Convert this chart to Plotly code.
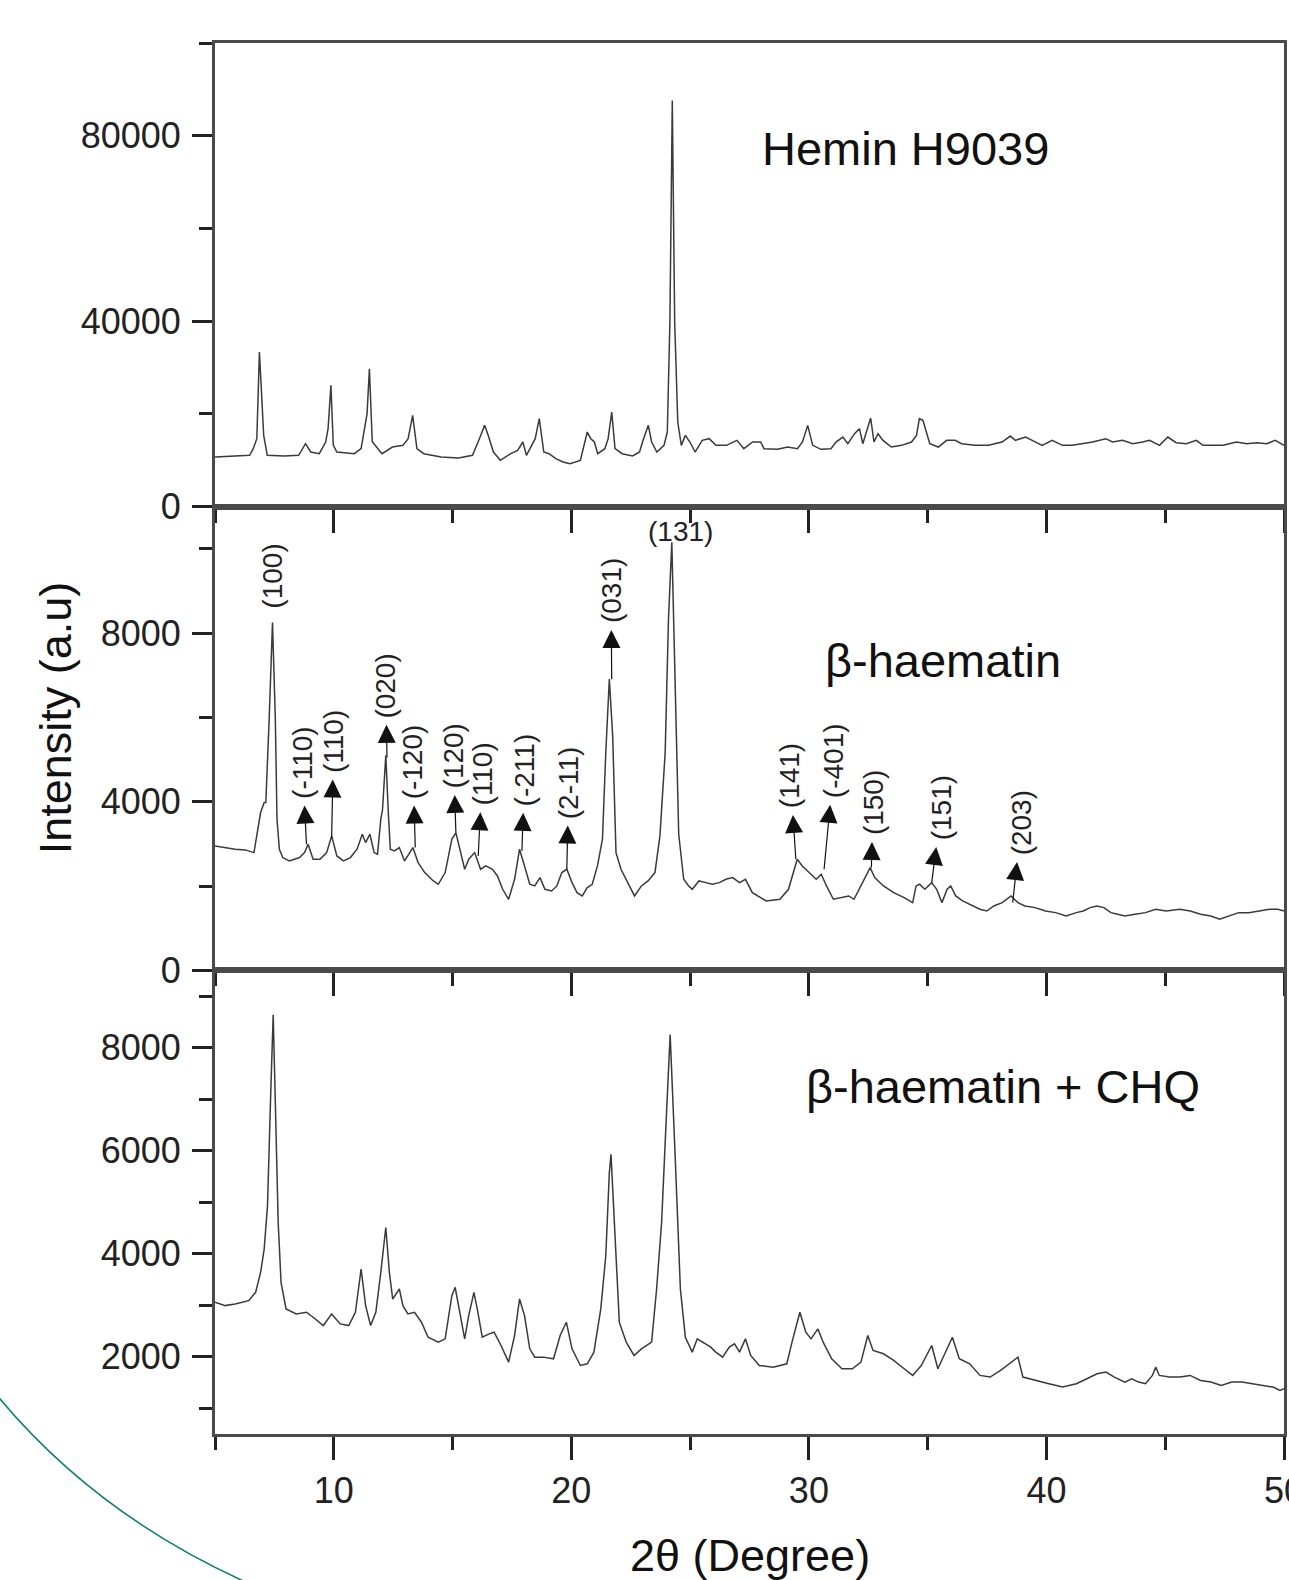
import plotly.graph_objects as go
from plotly.subplots import make_subplots

FONT = "Liberation Sans, Arial, sans-serif"

# ---------------- data ----------------
hemin_x = [5.00, 6.46, 6.61, 6.76, 6.87, 7.05, 7.20, 7.93, 8.52, 8.81, 9.03, 9.39, 9.66, 9.76, 9.88, 9.98,
           10.13, 10.86, 11.15, 11.40, 11.50, 11.62, 12.03, 12.47, 12.91, 13.13, 13.32, 13.50, 13.79, 14.52,
           15.25, 15.84, 16.13, 16.35, 16.50, 16.72, 17.01, 17.45, 17.74, 17.96, 18.11, 18.33, 18.48, 18.65,
           18.84, 19.06, 19.35, 19.65, 19.94, 20.38, 20.67, 20.82, 20.97, 21.11, 21.41, 21.55, 21.70, 21.84,
           22.14, 22.58, 22.87, 23.02, 23.24, 23.38, 23.60, 23.90, 24.04, 24.15, 24.25, 24.35, 24.48, 24.63,
           24.80, 24.99, 25.21, 25.51, 25.80, 26.09, 26.53, 26.97, 27.26, 27.63,
           27.97, 28.11, 28.68, 29.10, 29.52, 29.73, 29.95, 30.16, 30.51, 30.93, 31.14, 31.43, 31.64, 31.92,
           32.13, 32.27, 32.41, 32.60, 32.74, 32.91, 33.12, 33.47, 33.90, 34.32, 34.53, 34.65, 34.80, 35.09,
           35.45, 35.80, 36.15, 36.43, 37.00, 37.56, 38.13, 38.48, 38.69, 39.12, 39.40, 39.82, 40.24, 40.67,
           41.09, 41.51, 41.94, 42.50, 42.78, 43.21, 43.63, 44.05, 44.34, 44.76, 45.11, 45.46, 45.89, 46.31,
           46.59, 47.02, 47.44, 48.00, 48.43, 48.85, 49.27, 49.63, 50.00]
hemin_y = [10708, 11068, 12505, 14661, 33346, 15380, 11068, 10924, 11068, 13583, 11786, 11427, 13942, 16817,
           26160, 13224, 11786, 11427, 12505, 20000, 29753, 14000, 11427, 12864, 13224, 14661, 19691, 12505,
           11427, 10708, 10493, 11068, 14661, 17535, 15380, 11786, 9990, 11427, 12145, 13942, 11068, 13224,
           14661, 18973, 11786, 11427, 10349, 9630, 9271, 9990, 16098, 14661, 13942, 11427, 12505, 14661,
           20410, 12505, 11427, 10924, 11786, 14302, 17535, 13942, 11786, 13224, 16098, 40000, 87600, 40000,
           18254, 13224, 15380, 13942, 11786, 14302, 14661, 13224, 13224, 14302, 12505, 13942,
           13942, 12505, 12361, 12864, 12505, 13942, 17535, 13224, 12361, 12505, 13942, 15020, 13583, 15739,
           16817, 13583, 16098, 19117, 13942, 15739, 14302, 12864, 13224, 13942, 15380, 18973, 18613, 13583,
           12864, 14302, 14302, 13583, 13224, 13224, 13942, 15236, 14302, 15020, 14302, 13224, 14302, 13224,
           13224, 13583, 13942, 14661, 13942, 14302, 13583, 13942, 14302, 13224, 15020, 13798, 13583, 14302,
           13224, 13224, 13224, 13942, 13583, 13798, 13583, 14302, 13224]

bh_x = [5.00, 5.43, 5.85, 6.28, 6.64, 6.78, 6.92, 7.07, 7.14, 7.28, 7.42, 7.54, 7.61, 7.71, 7.85, 8.13, 8.56,
        8.77, 8.92, 9.13, 9.42, 9.70, 9.91, 10.13, 10.41, 10.70, 10.98, 11.20, 11.34, 11.52, 11.70, 11.84,
        11.98, 12.05, 12.19, 12.30, 12.38, 12.55, 12.76, 12.98, 13.33, 13.55, 13.83, 14.19, 14.40, 14.69,
        14.97, 15.14, 15.33, 15.51, 15.68, 15.93, 16.18, 16.40, 16.68, 16.89, 17.11, 17.36, 17.61, 17.82,
        18.03, 18.25, 18.46, 18.68, 18.89, 19.17, 19.39, 19.60, 19.81, 20.03, 20.24, 20.46, 20.67, 20.88,
        21.10, 21.31, 21.45, 21.60, 21.74, 21.88, 22.09, 22.38, 22.66, 22.95, 23.23, 23.52, 23.73, 23.95,
        24.09, 24.23, 24.37, 24.52, 24.73, 24.94, 25.09, 25.37, 25.66, 25.94, 26.23, 26.51, 26.79, 27.08,
        27.33, 27.62, 28.20, 28.78, 29.14, 29.36, 29.51, 29.72, 30.01, 30.31, 30.52, 30.74, 31.03, 31.39,
        31.68, 31.90, 32.19, 32.41, 32.58, 32.77, 33.14, 33.57, 34.01, 34.37, 34.51, 34.66, 34.88, 35.17,
        35.38, 35.60, 35.82, 35.97, 36.18, 36.47, 36.91, 37.20, 37.49, 37.78, 38.14, 38.51, 38.80, 39.09,
        39.52, 39.96, 40.39, 40.83, 41.26, 41.55, 41.84, 42.13, 42.42, 42.71, 43.00, 43.30, 43.73, 44.17,
        44.60, 45.04, 45.62, 46.05, 46.49, 46.92, 47.29, 47.65, 48.09, 48.52, 48.96, 49.39, 49.75, 50.00]
bh_y = [2952, 2912, 2873, 2857, 2793, 3268, 3743, 3980, 3980, 5959, 8254, 5959, 3585, 2873, 2675, 2596, 2675,
        2793, 2991, 2635, 2635, 2793, 3189, 2714, 2596, 2675, 2873, 3229, 3031, 3229, 2793, 2754,
        3585, 3800, 5100, 3700, 2873, 2833, 2912, 2596, 2912, 2556, 2319, 2121, 2042, 2319,
        3110, 3268, 2793, 2398, 2635, 2793, 2398, 2477, 2398, 2239, 1923, 1686, 2160, 2873,
        2477, 2042, 2002, 2200, 1923, 1883, 2002, 2319, 2398, 2081, 1844, 1765, 1963, 2042,
        2477, 3110, 5167, 6908, 5563, 2793, 2398, 2081, 1765, 2002, 2121, 2319, 3189, 5167,
        8333, 10153, 6750, 3229, 2160, 2002, 1923, 2121, 2081, 2042, 2081, 2160, 2200, 2081,
        2160, 1844, 1646, 1686, 1923, 2319, 2635, 2477, 2319, 2160, 2279, 2002, 1686, 1725,
        1765, 1686, 2002, 2239, 2437, 2200, 2002, 1844, 1725, 1606, 2002, 2042, 1923, 2081,
        1923, 1606, 1923, 2002, 1765, 1646, 1527, 1448, 1408, 1527, 1606, 1765, 1606, 1527,
        1488, 1408, 1369, 1290, 1369, 1408, 1488, 1527, 1488, 1369, 1329, 1290, 1329, 1369,
        1448, 1408, 1448, 1408, 1329, 1290, 1211, 1290, 1369, 1369, 1408, 1448, 1448, 1408]

chq_x = [5.00, 5.43, 5.85, 6.42, 6.71, 6.92, 7.07, 7.21, 7.35, 7.45, 7.56, 7.66, 7.78, 7.99, 8.42, 8.85, 9.13,
         9.56, 9.91, 10.27, 10.63, 10.91, 11.15, 11.34, 11.55, 11.77, 11.98, 12.19, 12.34, 12.48, 12.76,
         12.91, 13.12, 13.40, 13.69, 13.97, 14.40, 14.69, 14.97, 15.11, 15.33, 15.51, 15.68, 15.90, 16.04,
         16.25, 16.54, 16.75, 17.04, 17.36, 17.61, 17.82, 18.03, 18.25, 18.46, 18.82, 19.25, 19.53, 19.79,
         20.03, 20.38, 20.67, 20.95, 21.24, 21.45, 21.60, 21.67, 21.81, 22.02, 22.31, 22.64, 22.95, 23.38,
         23.59, 23.80, 24.02, 24.16, 24.37, 24.59, 24.80, 25.09, 25.30, 25.51, 25.87, 26.08, 26.37, 26.65,
         26.87, 27.08, 27.33, 27.55, 27.91, 28.49, 29.07, 29.29, 29.62, 29.87, 30.09, 30.38, 30.60, 30.96,
         31.39, 31.83, 32.19, 32.48, 32.70, 33.14, 33.57, 34.01, 34.37, 34.73, 35.17, 35.43, 35.68, 36.04,
         36.33, 36.77, 37.20, 37.63, 38.07, 38.51, 38.80, 39.01, 39.52, 40.10, 40.68, 41.26, 41.70, 42.13,
         42.50, 42.86, 43.30, 43.59, 43.88, 44.17, 44.46, 44.60, 44.75, 45.18, 45.62, 46.05, 46.49, 46.92,
         47.36, 47.80, 48.23, 48.67, 49.10, 49.54, 49.83, 50.00]
chq_y = [3057, 2992, 3024, 3089, 3250, 3638, 4089, 4928, 7187, 8639, 6542, 4606, 3444, 2928, 2831, 2863, 2766,
         2605, 2831, 2637, 2605, 2863, 3702, 2992, 2605, 2863, 3638, 4509, 3638, 3121, 3315,
         2992, 2831, 2863, 2670, 2379, 2282, 2347, 3186, 3347, 2798, 2347, 2798, 3250, 2928,
         2379, 2444, 2476, 2218, 1895, 2411, 3121, 2798, 2153, 1992, 1992, 1960, 2411, 2670,
         2153, 1830, 1863, 2089, 2928, 3960, 5574, 5928, 4606, 2670, 2282, 2024, 2153, 2282,
         3315, 4606, 6864, 8252, 5896, 3315, 2379, 2089, 2347, 2282, 2186, 2089, 1992, 2186,
         2250, 2089, 2347, 2024, 1830, 1798, 1863, 2282, 2863, 2476, 2347, 2540, 2282, 1960,
         1766, 1766, 1895, 2411, 2121, 2057, 1927, 1766, 1637, 1830, 2218, 1766, 2024, 2379,
         1960, 1863, 1637, 1605, 1734, 1895, 1992, 1605, 1540, 1476, 1411, 1476, 1572, 1669,
         1701, 1605, 1508, 1572, 1508, 1476, 1637, 1798, 1637, 1605, 1605, 1637, 1540, 1508,
         1443, 1508, 1508, 1476, 1443, 1411, 1347, 1379]

# Miller-index labels of the beta-haematin pattern
hkl_labels = ["(-110)", "(110)", "(020)", "(-120)", "(120)", "(110)", "(-211)", "(2-11)", "(031)",
              "(141)", "(-401)", "(150)", "(151)", "(203)"]
hkl_peak_x = [8.85, 9.91, 12.24, 13.43, 15.14, 16.08, 17.92, 19.81, 21.70, 29.45, 30.64, 32.63, 35.17, 38.58]
hkl_peak_y = [2990, 3150, 5050, 2913, 3268, 2714, 2834, 2398, 6908, 2635, 2398, 2437, 2081, 1607]
hkl_text_x = [8.68, 9.99, 12.19, 13.33, 15.04, 16.25, 18.03, 19.89, 21.67, 29.22, 31.07, 32.70, 35.57, 38.94]
hkl_text_y = [4930, 5429, 6750, 4955, 5087, 4651, 4756, 4456, 8999, 4613, 4970, 3968, 3849, 3493]

plain_labels = ["(100)", "(131)"]
plain_x = [7.42, 24.59]
plain_y = [9352, 10420]
plain_angle = [-90, 0]

sample_names = ["Hemin H9039", "\u03b2-haematin", "\u03b2-haematin + CHQ"]
sample_x = [27.93, 30.58, 29.80]
sample_y = [77185, 7359, 7245]

y_ranges = [[0, 100000], [0, 11000], [500, 9500]]
y_dtick = [40000, 4000, 2000]
y_minor = [20000, 2000, 1000]

# ---------------- figure ----------------
fig = make_subplots(rows=3, cols=1, shared_xaxes=True, vertical_spacing=0)
line = dict(color="#3a3a3a", width=1.5)
for i, (xs, ys) in enumerate([(hemin_x, hemin_y), (bh_x, bh_y), (chq_x, chq_y)]):
    fig.add_trace(go.Scatter(x=xs, y=ys, mode="lines", line=line, showlegend=False,
                             hoverinfo="skip"), row=i + 1, col=1)

axis_common = dict(showline=True, linecolor="#4a4a4a", linewidth=3, mirror=True, showgrid=False,
                   zeroline=False, ticks="outside", tickcolor="#222", tickwidth=3, automargin=False,
                   ticklabeloverflow="allow", tickformat="d",
                   tickfont=dict(family=FONT, size=36, color="#222"))

fig.update_xaxes(range=[5, 50], tick0=0, dtick=10, ticklen=23, ticklabelstandoff=0,
                 minor=dict(ticks="outside", ticklen=13, tickwidth=3, tickcolor="#222", dtick=5, tick0=0),
                 **axis_common)
for i in range(3):
    fig.update_yaxes(range=y_ranges[i], tick0=0, dtick=y_dtick[i], ticklen=20, ticklabelstandoff=4,
                     minor=dict(ticks="outside", ticklen=13, tickwidth=3, tickcolor="#222",
                                dtick=y_minor[i], tick0=0),
                     row=i + 1, col=1, **axis_common)

ann = []
refs = [("x", "y"), ("x2", "y2"), ("x3", "y3")]
for i, name in enumerate(sample_names):
    ann.append(dict(text=name, x=sample_x[i], y=sample_y[i], xref=refs[i][0], yref=refs[i][1],
                    xanchor="left", yanchor="middle", showarrow=False,
                    font=dict(family=FONT, size=47, color="#111")))
for lab, xx, yy, ang in zip(plain_labels, plain_x, plain_y, plain_angle):
    ann.append(dict(text=lab, x=xx, y=yy, xref="x2", yref="y2", showarrow=False, textangle=ang,
                    font=dict(family=FONT, size=28, color="#222")))
for lab, px, py, tx, ty in zip(hkl_labels, hkl_peak_x, hkl_peak_y, hkl_text_x, hkl_text_y):
    ann.append(dict(text=lab, x=px, y=py, xref="x2", yref="y2", axref="x2", ayref="y2", ax=tx, ay=ty,
                    textangle=-90, showarrow=True, arrowside="start", startarrowhead=2,
                    startarrowsize=3, arrowwidth=1.2, arrowcolor="#111", startstandoff=5, standoff=0,
                    font=dict(family=FONT, size=28, color="#222")))
ann.append(dict(text="Intensity (a.u)", x=-0.149, y=0.515, xref="paper", yref="paper", textangle=-90,
                showarrow=False, xanchor="center", yanchor="middle",
                font=dict(family=FONT, size=45, color="#111")))
ann.append(dict(text="2\u03b8 (Degree)", x=0.5, y=-0.0870, xref="paper", yref="paper",
                showarrow=False, xanchor="center", yanchor="middle",
                font=dict(family=FONT, size=45, color="#111")))

fig.update_layout(
    template="none",
    width=1289, height=1580,
    margin=dict(l=215, r=5, t=43, b=146),
    paper_bgcolor="white", plot_bgcolor="white",
    font=dict(family=FONT, color="#222"),
    annotations=ann,
    shapes=[dict(type="path", xref="paper", yref="paper",
                 path="M -0.2058,0.0295 Q -0.1123,-0.0582 0.0327,-0.1078",
                 line=dict(color="#0b7f6a", width=1.5))],
    showlegend=False,
)

fig.write_html("out.html",
               config={"displayModeBar": False},
               post_script="document.body.style.margin='0px';"
                           "document.body.style.overflow='hidden';"
                           "document.documentElement.style.overflow='hidden';")
